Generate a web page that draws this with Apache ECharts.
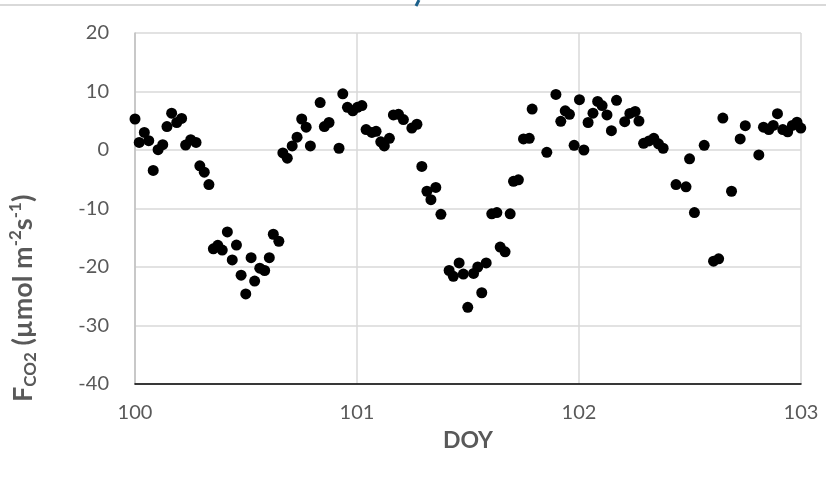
<!DOCTYPE html>
<html>
<head>
<meta charset="utf-8">
<script src="https://cdn.jsdelivr.net/npm/echarts@6/dist/echarts.min.js"></script>
<style>html,body{margin:0;padding:0;background:#fff;}#c{width:826px;height:480px;}</style>
</head>
<body>
<div id="c"></div>
<script>
// DOY values (x) and CO2 flux (y)
const doy = [
100.000,100.019,100.042,100.062,100.082,100.104,100.125,100.144,100.165,100.188,
100.210,100.228,100.251,100.275,100.292,100.312,100.333,100.353,100.373,100.393,
100.416,100.438,100.457,100.478,100.499,100.523,100.539,100.562,100.584,100.605,
100.623,100.648,100.666,100.686,100.708,100.730,100.751,100.771,100.790,100.834,
100.853,100.874,100.919,100.936,100.957,100.981,101.002,101.022,101.041,101.067,
101.086,101.107,101.123,101.146,101.164,101.187,101.209,101.247,101.270,101.292,
101.315,101.333,101.355,101.378,101.415,101.434,101.460,101.479,101.499,101.525,
101.544,101.562,101.582,101.607,101.630,101.645,101.667,101.690,101.705,101.727,
101.750,101.776,101.789,101.855,101.896,101.918,101.938,101.957,101.978,102.002,
102.022,102.041,102.063,102.084,102.104,102.126,102.146,102.169,102.206,102.229,
102.253,102.270,102.291,102.315,102.337,102.358,102.379,102.437,102.482,102.498,
102.520,102.564,102.606,102.629,102.648,102.687,102.726,102.749,102.810,102.831,
102.855,102.875,102.894,102.918,102.940,102.961,102.982,102.999];
const fco2 = [
5.3,1.3,3.0,1.6,-3.5,0.05,0.9,4.0,6.3,4.7,
5.4,0.85,1.75,1.3,-2.7,-3.8,-5.9,-16.9,-16.3,-17.1,
-14.0,-18.8,-16.25,-21.4,-24.6,-18.4,-22.4,-20.2,-20.6,-18.4,
-14.4,-15.6,-0.5,-1.4,0.7,2.2,5.3,3.9,0.7,8.1,
4.0,4.7,0.3,9.6,7.3,6.7,7.3,7.6,3.5,3.0,
3.2,1.4,0.7,2.0,6.0,6.1,5.2,3.75,4.4,-2.8,
-7.05,-8.5,-6.4,-11.0,-20.6,-21.6,-19.3,-21.2,-26.9,-21.1,
-20.0,-24.4,-19.3,-10.9,-10.7,-16.6,-17.4,-10.9,-5.35,-5.1,
1.9,2.0,7.0,-0.4,9.5,4.9,6.7,6.1,0.8,8.6,
0.0,4.7,6.3,8.3,7.6,6.0,3.3,8.5,4.85,6.25,
6.6,4.95,1.15,1.55,2.0,1.05,0.3,-5.9,-6.3,-1.5,
-10.7,0.8,-19.0,-18.6,5.45,-7.05,1.9,4.15,-0.85,3.9,
3.5,4.2,6.2,3.5,3.1,4.2,4.75,3.75];
const xTicks = [100, 101, 102, 103];
const yTicks = [-40, -30, -20, -10, 0, 10, 20];

const points = doy.map((d, i) => [d, fco2[i]]);
const font = 'Lato, "Open Sans", sans-serif';
const chart = echarts.init(document.getElementById('c'), null, {renderer: 'canvas'});
chart.setOption({
  animation: false,
  backgroundColor: '#fff',
  grid: {left: 135, right: 25, top: 33, bottom: 96, containLabel: false},
  xAxis: {
    type: 'value', min: xTicks[0], max: xTicks[xTicks.length - 1], interval: 1,
    name: 'DOY', nameLocation: 'middle', nameGap: 45,
    nameTextStyle: {fontFamily: font, fontSize: 23, fontWeight: 'bold', color: '#595959'},
    axisLine: {onZero: false, lineStyle: {color: '#000', width: 1.5}},
    axisTick: {show: false},
    axisLabel: {fontFamily: font, fontSize: 20, color: '#595959', margin: 19},
    splitLine: {show: true, lineStyle: {color: '#d9d9d9', width: 1.5}}
  },
  yAxis: {
    type: 'value', min: yTicks[0], max: yTicks[yTicks.length - 1], interval: 10,
    axisLine: {show: true, lineStyle: {color: '#bfbfbf', width: 1.5}},
    axisTick: {show: false},
    axisLabel: {fontFamily: font, fontSize: 20, color: '#595959', margin: 26},
    splitLine: {show: true, lineStyle: {color: '#d9d9d9', width: 1.5}}
  },
  graphic: [
    {type: 'line', shape: {x1: 0, y1: 5, x2: 826, y2: 5}, style: {stroke: '#d9d9d9', lineWidth: 2}},
    {type: 'line', shape: {x1: 419, y1: 0, x2: 416, y2: 6}, style: {stroke: '#1a5f8a', lineWidth: 3}},
    {
      type: 'text', x: 23, y: 402, rotation: Math.PI / 2,
      style: {
        text: '{b|F}{s|CO2}{b| (µmol m}{p|-2}{b|s}{p|-1}{b|)}',
        align: 'left', verticalAlign: 'middle',
        fill: '#595959',
        rich: {
          b: {fontFamily: font, fontSize: 27, fontWeight: 'bold', fill: '#595959'},
          s: {fontFamily: font, fontSize: 17, fontWeight: 'bold', fill: '#595959', padding: [15, 0, 0, 0]},
          p: {fontFamily: font, fontSize: 17, fontWeight: 'bold', fill: '#595959', padding: [0, 0, 15, 0]}
        }
      }
    }
  ],
  series: [{
    type: 'scatter', data: points, symbol: 'circle', symbolSize: 11,
    itemStyle: {color: '#000', opacity: 1}
  }]
});
</script>
</body>
</html>
